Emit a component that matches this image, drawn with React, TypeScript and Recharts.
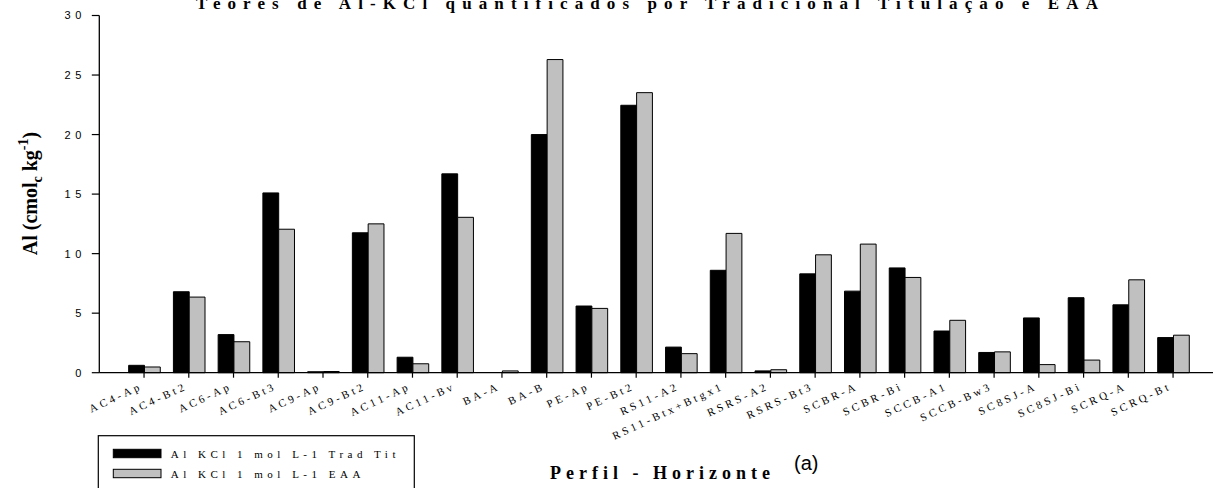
import React from 'react';
import { BarChart, Bar, XAxis, YAxis } from 'recharts';

const categories = ['AC4-Ap', 'AC4-Bt2', 'AC6-Ap', 'AC6-Bt3', 'AC9-Ap', 'AC9-Bt2', 'AC11-Ap', 'AC11-Bv', 'BA-A', 'BA-B', 'PE-Ap', 'PE-Bt2', 'RS11-A2', 'RS11-Btx+Btgx1', 'RSRS-A2', 'RSRS-Bt3', 'SCBR-A', 'SCBR-Bi', 'SCCB-A1', 'SCCB-Bw3', 'SC8SJ-A', 'SC8SJ-Bi', 'SCRQ-A', 'SCRQ-Bt'];
const tradTit = [0.62, 6.8, 3.2, 15.1, 0.08, 11.75, 1.3, 16.7, 0, 20.0, 5.6, 22.46, 2.15, 8.6, 0.15, 8.3, 6.85, 8.8, 3.5, 1.7, 4.6, 6.3, 5.7, 2.95];
const eaa = [0.48, 6.35, 2.6, 12.05, 0.1, 12.5, 0.75, 13.05, 0.15, 26.3, 5.4, 23.52, 1.6, 11.7, 0.25, 9.9, 10.8, 8.0, 4.4, 1.75, 0.68, 1.06, 7.8, 3.15];
const yTicks = [0, 5, 10, 15, 20, 25, 30];
const seriesNames = ['Al KCl 1 mol L-1 Trad Tit', 'Al KCl 1 mol L-1 EAA'];
const titleText = 'Teores de Al-KCl quantificados por Tradicional Titulação e EAA';
const xTitle = 'Perfil - Horizonte';
const panelTag = '(a)';

const data = categories.map((c, i) => ({ name: c, trad: tradTit[i], eaa: eaa[i] }));

const SERIF = '"Liberation Serif", "Times New Roman", serif';
const SANS = '"Liberation Sans", Arial, sans-serif';

const XTick = (props: any) => {
  const { x, y, payload } = props;
  return (
    <g transform={`translate(${x - 1},${y + 11})`}>
      <text x={0} y={0} transform="rotate(-25)" textAnchor="end" fontFamily={SERIF} fontSize={11} fill="#000" style={{ letterSpacing: '3.2px' }}>
        {payload.value}
      </text>
    </g>
  );
};

const YTick = (props: any) => {
  const { x, y, payload } = props;
  return (
    <text x={x + 4} y={y} dy="0.36em" textAnchor="end" fontFamily={SANS} fontSize={11} fill="#000" style={{ letterSpacing: '4.5px' }}>
      {payload.value}
    </text>
  );
};

export default function App() {
  return (
    <div style={{ position: 'absolute', left: 0, top: 0, width: 1213, height: 488, background: '#fff' }}>
      <BarChart
        width={1213}
        height={488}
        data={data}
        margin={{ top: 15.5, right: 0, left: 0, bottom: 0 }}
        barGap={0}
        barSize={15.8}
      >
        <XAxis
          dataKey="name"
          height={115.3}
          interval={0}
          padding={{ left: 22.37, right: 17.57 }}
          tick={<XTick />}
          tickSize={5}
          tickMargin={0}
          axisLine={{ stroke: '#000', strokeWidth: 1.3 }}
          tickLine={{ stroke: '#000', strokeWidth: 1.2 }}
        />
        <YAxis
          type="number"
          domain={[0, 30]}
          ticks={yTicks}
          width={99.3}
          interval={0}
          tick={<YTick />}
          tickSize={7.5}
          tickMargin={10}
          axisLine={{ stroke: '#000', strokeWidth: 1.3 }}
          tickLine={{ stroke: '#000', strokeWidth: 1.2 }}
        />
        <Bar dataKey="trad" name={seriesNames[0]} fill="#000" stroke="#000" strokeWidth={1} isAnimationActive={false} />
        <Bar dataKey="eaa" name={seriesNames[1]} fill="#c0c0c0" stroke="#000" strokeWidth={1} isAnimationActive={false} />
      </BarChart>
      <svg width={1213} height={488} style={{ position: 'absolute', left: 0, top: 0, pointerEvents: 'none' }}>
        <text x={196} y={8.5} fontFamily={SERIF} fontWeight="bold" fontSize={17} fill="#000" style={{ letterSpacing: '7.1px' }}>
          {titleText}
        </text>
        <text transform="translate(36.7,193.5) rotate(-90)" textAnchor="middle" fontFamily={SERIF} fontWeight="bold" fontSize={20} fill="#000">
          Al (cmol<tspan fontSize={14} dy={5}>c</tspan><tspan dy={-5}> kg</tspan><tspan fontSize={14} dy={-9}>-1</tspan><tspan dy={9}>)</tspan>
        </text>
        <text x={550} y={479} fontFamily={SERIF} fontWeight="bold" fontSize={18} fill="#000" style={{ letterSpacing: '5px' }}>
          {xTitle}
        </text>
        <text x={794} y={470} fontFamily={SANS} fontSize={20} fill="#000">
          {panelTag}
        </text>
        <rect x={98.3} y={435.7} width={316} height={70} fill="none" stroke="#000" strokeWidth={1.2} />
        <rect x={113.3} y={449.3} width={47.7} height={8.4} fill="#000" stroke="#000" strokeWidth={1} />
        <rect x={113.3} y={469.3} width={47.7} height={8.4} fill="#c0c0c0" stroke="#000" strokeWidth={1} />
        <text x={170.7} y={457.5} fontFamily={SERIF} fontSize={11} fill="#000" style={{ letterSpacing: '4.5px' }}>
          {seriesNames[0]}
        </text>
        <text x={170.7} y={477.5} fontFamily={SERIF} fontSize={11} fill="#000" style={{ letterSpacing: '4.5px' }}>
          {seriesNames[1]}
        </text>
      </svg>
    </div>
  );
}
